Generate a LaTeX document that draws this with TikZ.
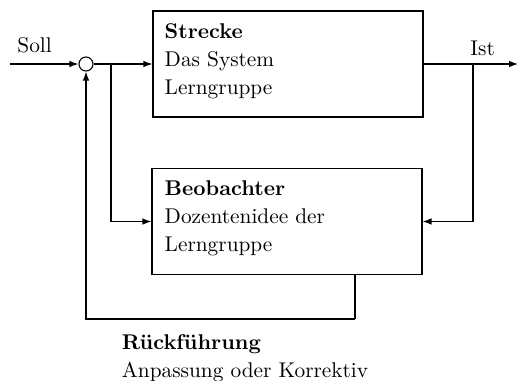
\documentclass[tikz,border=0pt]{standalone}
\usetikzlibrary{arrows.meta}
\tikzset{
  lab/.style={font=\fontsize{10}{13.1}\selectfont, inner sep=0pt, scale=2.14, transform shape},
  box/.style={draw, line width=1.1pt, minimum width=#1, minimum height=106bp, inner sep=0pt},
  txt/.style={lab, anchor=base west, align=left},
  sum/.style={draw, circle, line width=1.1pt, minimum size=14bp, inner sep=0pt},
  conn/.style={line width=1.1pt},
  arr/.style={conn, -{Latex[length=9pt,width=6.5pt]}}}
\begin{document}
\begin{tikzpicture}[x=1bp,y=-1bp]
\useasboundingbox (0,0) rectangle (519,380);
\node[box=270bp] (strecke) at (288,64) {};
\node[box=270bp] (beob) at (287,221.5) {};
\node[sum] (sum) at (86,64) {};
\node[txt] (t1) at (164.3,94.3) {\textbf{Strecke}\\Das System\\Lerngruppe};
\node[txt] (t2) at (164.3,251.7) {\textbf{Beobachter}\\Dozentenidee der\\Lerngruppe};
\node[txt] (t3) at (121.5,377.7) {\textbf{Rückführung}\\Anpassung oder Korrektiv};
\node[txt] (soll) at (17,52) {Soll};
\node[txt] (ist) at (470,55) {Ist};
\coordinate (in) at (10,64);
\coordinate (out) at (518,64);
\coordinate (b1) at (111,64);
\coordinate (b2) at (473,64);
\coordinate (fb) at (355,319);
\draw[arr] (in) -- (sum.west);
\draw[arr] (sum.east) -- (strecke.west);
\draw[arr] (b1) |- (beob.west);
\draw[arr] (strecke.east) -- (out);
\draw[arr] (b2) |- (beob.east);
\draw[conn] (beob.south -| fb) -- (fb);
\draw[arr] (fb) -| (sum.south);
\end{tikzpicture}
\end{document}
